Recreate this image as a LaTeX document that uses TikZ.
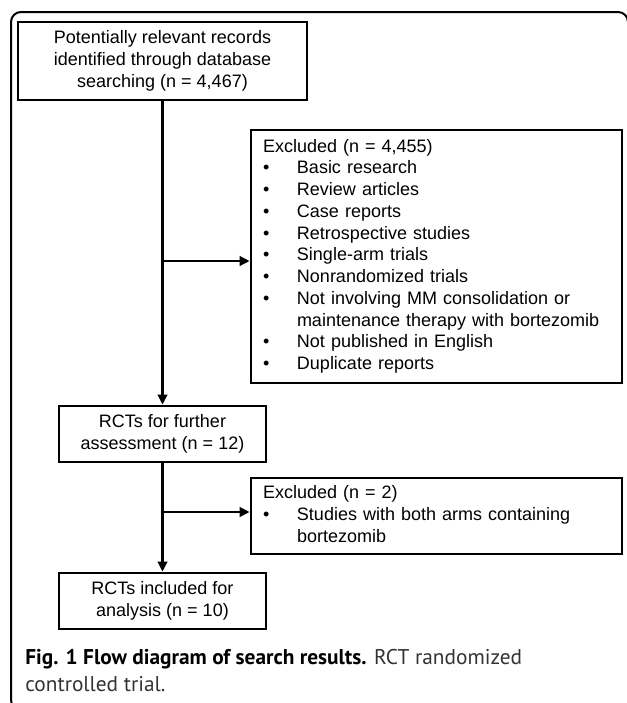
\documentclass[tikz,border=0pt]{standalone}
\usepackage{fontspec}
\setmainfont{Liberation Sans}
\newfontfamily\capfont{PT Sans}
\usetikzlibrary{arrows.meta,positioning,calc}
\newdimen\pix \pix=0.75pt
\tikzstyle{flowbox}=[draw,line width=2pt,inner sep=0pt,align=center,font=\fontsize{13.5pt}{16.5pt}\selectfont]
\tikzstyle{exclbox}=[flowbox,align=left,inner xsep=12\pix,text width=347\pix]
\tikzstyle{flowarrow}=[line width=2pt,-{Triangle[length=7.5pt,width=7pt]}]

\begin{document}
\begin{tikzpicture}[x=0.75pt,y=-0.75pt]
    \useasboundingbox (0,0) rectangle (627,703);
    \draw [line width=1.5pt,rounded corners=7.5pt] (628,30) -- (628,12) -- (11,12) -- (11,710) -- (40,710);

    \node [flowbox,minimum width=289\pix,minimum height=78\pix] (records) at (162.5,61)
      {Potentially relevant records\\identified through database\\searching (n = 4,467)};
    \node [flowbox,minimum width=207\pix,minimum height=56\pix] (further) at (162.5,434)
      {RCTs for further\\assessment (n = 12)};
    \node [flowbox,minimum width=207\pix,minimum height=56\pix] (included) at (162.5,601)
      {RCTs included for\\analysis (n = 10)};

    \node [exclbox,minimum height=253\pix] (excl1) at (436.5,256.5) {%
      \fontsize{13.5pt}{16.3pt}\selectfont
      \begin{tabular}{@{}p{34\pix}@{}l@{}}
        \multicolumn{2}{@{}l@{}}{Excluded (n = 4,455)}\\
        \textbullet & Basic research\\
        \textbullet & Review articles\\
        \textbullet & Case reports\\
        \textbullet & Retrospective studies\\
        \textbullet & Single-arm trials\\
        \textbullet & Nonrandomized trials\\
        \textbullet & Not involving MM consolidation or\\
                    & maintenance therapy with bortezomib\\
        \textbullet & Not published in English\\
        \textbullet & Duplicate reports
      \end{tabular}};
    \node [exclbox,minimum height=76\pix] (excl2) at (436.5,516) {%
      \fontsize{13.5pt}{16.3pt}\selectfont
      \begin{tabular}{@{}p{34\pix}@{}l@{}}
        \multicolumn{2}{@{}l@{}}{Excluded (n = 2)}\\
        \textbullet & Studies with both arms containing\\
                    & bortezomib
      \end{tabular}};

    \draw [flowarrow] (records) -- (further);
    \draw [flowarrow] ([yshift=-4.5\pix]records.south |- excl1.west) -- ([yshift=-4.5\pix]excl1.west);
    \draw [flowarrow] (further) -- (included);
    \draw [flowarrow] ([yshift=4\pix]further.south |- excl2.west) -- ([yshift=4\pix]excl2.west);

    \node [anchor=north west,align=left,inner sep=0pt,font=\capfont\fontsize{16pt}{20.5pt}\selectfont] (caption) at (25,649)
      {\textbf{Fig. 1 Flow diagram of search results.} {\color{black!80}RCT randomized}\\{\color{black!80}controlled trial.}};
\end{tikzpicture}
\end{document}
